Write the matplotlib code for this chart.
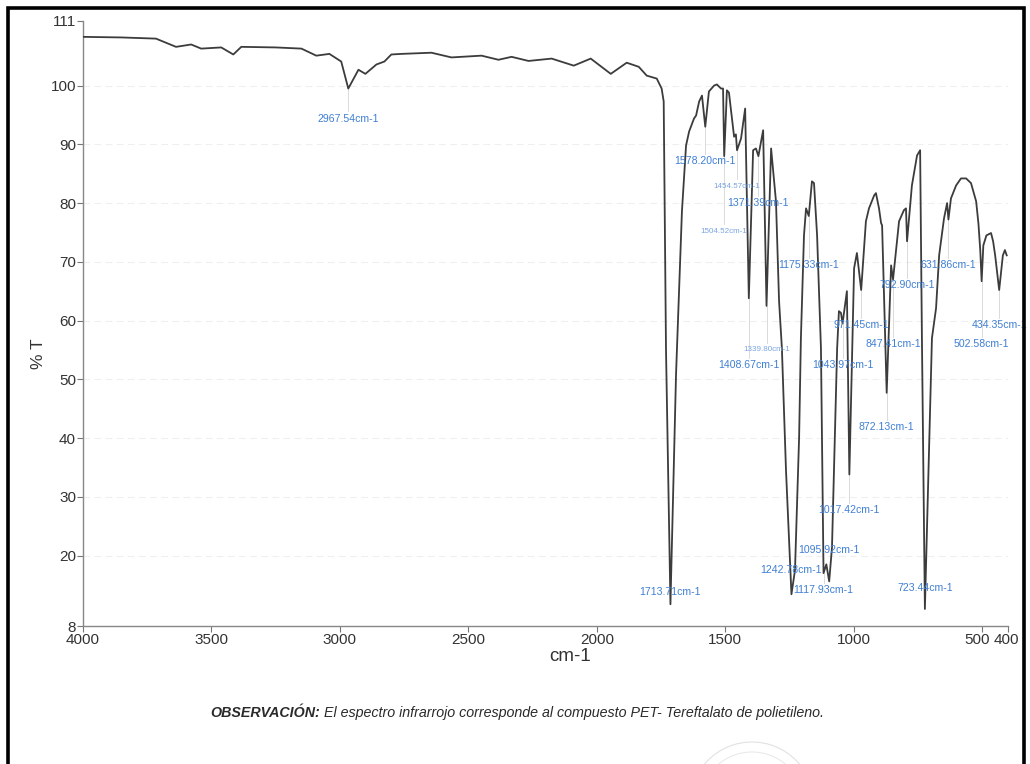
import matplotlib
matplotlib.use("Agg")
import matplotlib.pyplot as plt
import matplotlib.transforms as mtransforms
from matplotlib.patches import Rectangle, Circle

plt.rcParams["font.family"] = ["Liberation Sans", "DejaVu Sans"]

# Baseline / shoulder points of the IR spectrum (wavenumber cm-1, %T)
base_wavenumber = [
    4000, 3850, 3716, 3638, 3579, 3540, 3462, 3415, 3384, 3250, 3150, 3092,
    3041, 2995, 2928, 2901, 2858, 2827, 2800, 2761, 2644, 2566, 2449, 2383,
    2332, 2266, 2176, 2090, 2024, 1946, 1884, 1837, 1806, 1767, 1748, 1740,
    1731, 1692, 1669, 1653, 1641, 1622, 1614, 1602, 1591, 1564, 1544, 1533,
    1517, 1509, 1494, 1486, 1466, 1459, 1439, 1423, 1392, 1381, 1353, 1322,
    1303, 1291, 1280, 1264, 1229, 1213, 1206, 1194, 1186, 1163, 1155, 1143,
    1128, 1107, 1085, 1065, 1058, 1050, 1027, 999, 988, 953, 941, 921, 914,
    902, 894, 890, 855, 824, 805, 797, 774, 754, 742, 735, 696, 680, 668,
    649, 637, 622, 602, 583, 563, 544, 524, 515, 508, 496, 484, 466, 458,
    450, 420, 412, 405,
]
base_transmittance = [
    108.3, 108.2, 108.0, 106.6, 107.0, 106.3, 106.5, 105.3, 106.6, 106.5,
    106.3, 105.1, 105.4, 104.1, 102.7, 102.0, 103.6, 104.1, 105.3, 105.4,
    105.6, 104.8, 105.1, 104.4, 104.9, 104.2, 104.6, 103.4, 104.6, 102.0,
    103.9, 103.2, 101.7, 101.2, 99.5, 97.3, 55.0, 50.8, 78.6, 89.8, 92.2,
    94.4, 94.9, 97.3, 98.3, 99.0, 100.0, 100.2, 99.5, 99.5, 99.2, 98.8,
    91.3, 91.7, 91.0, 96.1, 89.0, 89.3, 92.4, 89.3, 80.3, 63.3, 55.3, 34.5,
    17.5, 40.1, 57.0, 74.5, 79.1, 83.7, 83.4, 74.5, 55.3, 18.5, 21.4, 55.3,
    61.6, 61.3, 65.0, 68.9, 71.5, 76.9, 79.1, 81.3, 81.7, 79.1, 76.6, 76.2,
    69.4, 76.9, 78.8, 79.1, 83.0, 88.1, 89.0, 57.0, 57.0, 62.1, 71.1, 77.4,
    80.0, 80.8, 83.0, 84.2, 84.2, 83.4, 80.3, 76.5, 72.0, 72.8, 74.5, 74.9,
    73.5, 71.1, 71.1, 72.0, 71.1,
]

# Labelled absorption bands
peak_wavenumber = [
    2967.54, 1713.71, 1578.20, 1504.52, 1454.57, 1408.67, 1371.39, 1339.80,
    1242.78, 1175.33, 1117.93, 1095.92, 1043.97, 1017.42, 971.45, 872.13,
    847.41, 792.90, 723.44, 631.86, 502.58, 434.35,
]
peak_transmittance = [
    99.5, 11.7, 93.0, 88.0, 89.0, 63.8, 88.0, 62.5, 13.4, 77.8, 17.0, 15.6,
    59.5, 33.8, 65.2, 47.7, 67.0, 73.5, 10.9, 77.2, 66.7, 65.2,
]
label_y = [
    94.4, 13.8, 87.1, 75.2, 82.9, 52.5, 80.0, 55.0, 17.5, 69.4, 14.1, 20.9,
    52.5, 27.8, 59.3, 41.8, 56.0, 66.0, 14.4, 69.4, 56.0, 59.3,
]
small_labels = [1504.52, 1454.57, 1339.80]

x_ticks = [4000, 3500, 3000, 2500, 2000, 1500, 1000, 500, 400]
y_ticks = [8, 20, 30, 40, 50, 60, 70, 80, 90, 100, 111]

# merge baseline and band minima into one trace
points = sorted(
    list(zip(base_wavenumber, base_transmittance))
    + list(zip(peak_wavenumber, peak_transmittance)),
    key=lambda p: -p[0],
)
wavenumber = [p[0] for p in points]
transmittance = [p[1] for p in points]

fig = plt.figure(figsize=(10.30, 7.64), dpi=100)
ax = fig.add_axes([83 / 1030, 1 - 626 / 764, 925 / 1030, 605 / 764])

for y in y_ticks[1:-1]:
    ax.axhline(y, color="#efefef", linewidth=0.8, linestyle=(0, (6, 4)), zorder=0)

ax.plot(wavenumber, transmittance, color="#3c3c3c", linewidth=1.3, zorder=3)

for w, t, ly in zip(peak_wavenumber, peak_transmittance, label_y):
    small = w in small_labels
    if ly < t - 2:
        ax.plot([w, w], [t, ly + 1.2], color="#d4d4d4", linewidth=0.6, zorder=2)
    ax.text(
        w, ly, f"{w:.2f}cm-1",
        ha="center", va="center",
        fontsize=5.8 if small else 7.6,
        color="#7aa4e2" if small else "#3f7fd4",
        zorder=4,
    )

ax.set_xlim(4000, 400)
ax.set_ylim(8, 111)
ax.set_xticks(x_ticks)
ax.set_yticks(y_ticks)
ax.tick_params(axis="both", direction="out", length=4, width=0.8,
               color="#777777", labelsize=11, labelcolor="#333333", pad=1)
for side in ["top", "right"]:
    ax.spines[side].set_visible(False)
for side in ["left", "bottom"]:
    ax.spines[side].set_color("#888888")
    ax.spines[side].set_linewidth(1.0)

# squeeze the crowded 500 / 400 labels apart
shifts = {500: -5, 400: -2}
for tick, value in zip(ax.xaxis.get_major_ticks(), x_ticks):
    if value in shifts:
        offset = mtransforms.ScaledTranslation(shifts[value] / 100, 0, fig.dpi_scale_trans)
        tick.label1.set_transform(tick.label1.get_transform() + offset)

ax.set_xlabel("cm-1", fontsize=13.5, color="#333333")
ax.xaxis.set_label_coords(487 / 925, -22 / 605)
ax.set_ylabel("% T", fontsize=12.5, color="#333333")
ax.yaxis.set_label_coords(-37 / 925, 0.45)

# footer note
head = fig.text(210 / 1030, 1 - 713 / 764, "OBSERVACIÓN:", fontsize=10.3,
                fontweight="bold", style="italic", color="#2a2a2a",
                ha="left", va="center")
ax.annotate(" El espectro infrarrojo corresponde al compuesto PET- Tereftalato de polietileno.",
            xy=(1, 0.5), xycoords=head, va="center", ha="left",
            fontsize=10.3, style="italic", color="#2a2a2a", annotation_clip=False)

# page frame and a faint stamp edge
fig.patches.append(Rectangle((8 / 1030, -0.05), 1016 / 1030, 1.05 - 8 / 764,
                             transform=fig.transFigure, fill=False,
                             edgecolor="black", linewidth=2.6))
for r, a in [(62, 0.25), (52, 0.18)]:
    fig.patches.append(Circle((752, -40), r, transform=None, fill=False,
                              edgecolor="#888888", linewidth=0.8, alpha=a))

fig.savefig("out.png", dpi=100)
